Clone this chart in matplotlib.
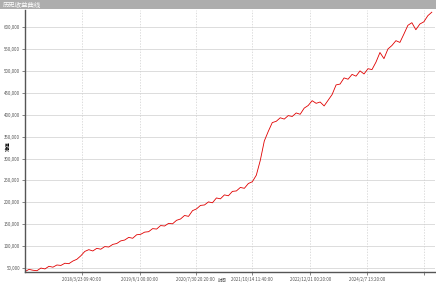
import matplotlib
matplotlib.use("Agg")
import matplotlib.pyplot as plt
from matplotlib.patches import Rectangle
from matplotlib.ticker import FuncFormatter

plt.rcParams["font.family"] = ["Noto Sans CJK SC", "DejaVu Sans"]

# ── Data (equity in thousands, one sample per bar step) ──────────────────────

EQUITY_K = [
    42, 47, 45, 44, 50, 48, 54, 52, 57, 56,
    61, 60, 66, 70, 78, 88, 92, 89, 95, 93,
    99, 98, 104, 106, 112, 114, 120, 118, 126, 127,
    132, 133, 140, 139, 147, 146, 152, 151, 159, 162,
    170, 168, 181, 185, 193, 194, 201, 199, 210, 208,
    217, 215, 225, 226, 234, 232, 243, 247, 262, 296,
    340, 362, 382, 385, 393, 390, 398, 396, 404, 401,
    415, 421, 432, 426, 429, 420, 433, 446, 468, 470,
    484, 481, 492, 488, 500, 493, 505, 503, 520, 542,
    528, 550, 558, 569, 565, 584, 604, 610, 594, 607,
    612, 626, 634,
]

TICK_POS = [14.25, 28.75, 42.75, 57, 71.5, 85.75, 100]
TICK_LABELS = [
    "2018/3/23 09:40:00", "2019/6/1 00:00:00", "2020/7/30 20:20:00",
    "2021/10/14 11:40:00", "2022/12/21 00:20:00", "2024/2/7 13:20:00", "",
]
Y_TICKS = [50000 * k for k in range(1, 13)]

TITLE = "历史收益曲线"
Y_LABEL = "净值"
X_LABEL = "时间"

# ── Figure ───────────────────────────────────────────────────────────────────

fig = plt.figure(figsize=(4.36, 2.84), dpi=100)
fig.patches.append(Rectangle((0, 1 - 9 / 284), 1, 9 / 284, transform=fig.transFigure,
                             facecolor="#adadad", edgecolor="none", zorder=0))
fig.text(3 / 436, 1 - 4.5 / 284, TITLE, color="white", fontsize=4.6,
         va="center", ha="left")

ax = fig.add_axes([25 / 436, 12 / 284, 410 / 436, 262 / 284])
values = [v * 1000 for v in EQUITY_K]
ax.plot(range(len(values)), values, color="#e00000", lw=0.6)

ax.set_xlim(0, 102.8)
ax.set_ylim(41000, 639000)
ax.set_yticks(Y_TICKS)
ax.yaxis.set_major_formatter(FuncFormatter(lambda v, _: f"{int(v):,}"))
ax.set_xticks(TICK_POS)
ax.set_xticklabels(TICK_LABELS)

ax.tick_params(axis="both", labelsize=3.2, labelcolor="#555555", color="#555555",
               length=2, width=0.5, pad=1.5)
ax.grid(axis="y", color="#cfcfcf", lw=0.5)
ax.grid(axis="x", color="#cfcfcf", lw=0.5, ls=(0, (2, 2)))
ax.set_axisbelow(True)

for side in ("top", "right"):
    ax.spines[side].set_visible(False)
for side in ("left", "bottom"):
    ax.spines[side].set_color("#555555")
    ax.spines[side].set_linewidth(1.0)

fig.text(8 / 436, 1 - 146 / 284, Y_LABEL, fontsize=3.5, fontweight="bold",
         rotation=90, ha="center", va="center")
fig.text(222 / 436, 1 - 281 / 284, X_LABEL, fontsize=3.2, color="#555555",
         ha="center", va="center")

fig.savefig("out.png", dpi=100)
